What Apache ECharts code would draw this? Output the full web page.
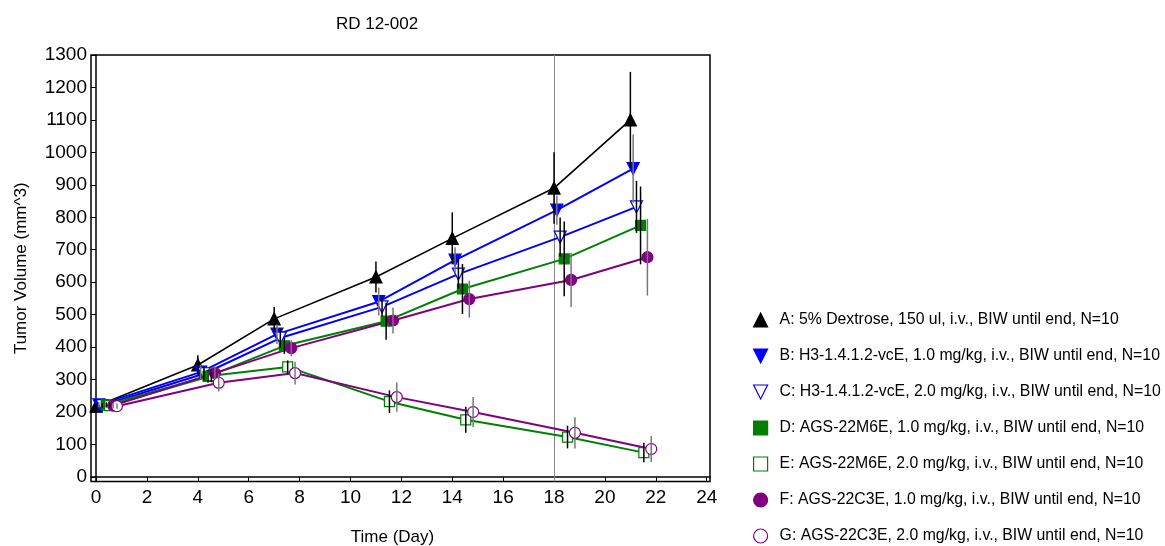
<!DOCTYPE html>
<html>
<head>
<meta charset="utf-8">
<script src="https://cdn.jsdelivr.net/npm/echarts@6/dist/echarts.min.js"></script>
<style>html,body{margin:0;padding:0;background:#fff}#c{width:1165px;height:546px}</style>
</head>
<body>
<div id="c"></div>
<script>
// ---- data ----
const days = [0, 4, 7, 11, 14, 18, 21];
// small per-group horizontal jitter (days) as plotted in the reference
const jitter = [0, 0.11, 0.24, 0.4, 0.53, 0.67, 0.82];
const groupNames = [
  'A: 5% Dextrose, 150 ul, i.v., BIW until end, N=10',
  'B: H3-1.4.1.2-vcE, 1.0 mg/kg, i.v., BIW until end, N=10',
  'C: H3-1.4.1.2-vcE, 2.0 mg/kg, i.v., BIW until end, N=10',
  'D: AGS-22M6E, 1.0 mg/kg, i.v., BIW until end, N=10',
  'E: AGS-22M6E, 2.0 mg/kg, i.v., BIW until end, N=10',
  'F: AGS-22C3E, 1.0 mg/kg, i.v., BIW until end, N=10',
  'G: AGS-22C3E, 2.0 mg/kg, i.v., BIW until end, N=10'
];
const valA = [218, 345, 487, 616, 735, 890, 1100];
const valB = [222, 323, 440, 540, 668, 822, 950];
const valC = [220, 318, 428, 524, 625, 739, 832];
const valD = [222, 310, 404, 480, 579, 672, 775];
const valE = [220, 312, 339, 232, 176, 123, 75];
const valF = [220, 320, 397, 482, 548, 607, 677];
const valG = [218, 290, 320, 246, 200, 136, 86];
const errA = [8, 30, 37, 48, 80, 110, 148];
const errB = [8, 22, 30, 43, 40, 45, 105];
const errC = [8, 20, 30, 30, 45, 60, 80];
const errD = [8, 20, 25, 57, 77, 115, 120];
const errE = [8, 20, 20, 35, 40, 35, 30];
const errF = [8, 20, 25, 40, 57, 83, 118];
const errG = [8, 27, 35, 45, 46, 48, 40];
const yTicks = [0,100,200,300,400,500,600,700,800,900,1000,1100,1200,1300];
const xTicks = [0,2,4,6,8,10,12,14,16,18,20,22,24];
const refDay = 18;

const values = [valA, valB, valC, valD, valE, valF, valG];
const errors = [errA, errB, errC, errD, errE, errF, errG];

// ---- styles ----
const FONT = 'Liberation Sans, Arial, sans-serif';
const DOWN = 'path://M0,0L10,0L5,10Z';
const styles = [
  {color:'#000000', symbol:'triangle', size:12, fill:'#000000', lw:1.6, err:'#000000'},
  {color:'#0000ff', symbol:DOWN, size:12, fill:'#0000ff', lw:2, err:'#777777'},
  {color:'#0000ff', symbol:DOWN, size:12, fill:'#ffffff', lw:2, err:'#000000'},
  {color:'#008000', symbol:'rect', size:10, fill:'#008000', lw:2, err:'#000000'},
  {color:'#008000', symbol:'rect', size:10, fill:'#ffffff', lw:2, err:'#000000'},
  {color:'#800080', symbol:'circle', size:11, fill:'#800080', lw:2, err:'#777777'},
  {color:'#800080', symbol:'circle', size:11, fill:'#ffffff', lw:2, err:'#777777'}
];

const series = [];
const legendData = [];
values.forEach((vals, i) => {
  const st = styles[i];
  const pts = days.map((d, k) => [d + jitter[i], vals[k]]);
  const s = {
    name: groupNames[i],
    type: 'line',
    data: pts,
    symbol: st.symbol,
    symbolSize: st.size,
    showAllSymbol: true,
    lineStyle: {color: st.color, width: st.lw},
    itemStyle: {color: st.fill, borderColor: st.color, borderWidth: 1.2},
    emphasis: {disabled: true},
    z: 3
  };
  if (i === 0) {
    s.markLine = {
      silent: true, symbol: 'none', label: {show: false},
      lineStyle: {color: '#888888', type: 'solid', width: 1},
      data: [{xAxis: refDay}], z: 1
    };
  }
  series.push(s);
  legendData.push({
    name: groupNames[i], icon: st.symbol,
    itemStyle: {color: st.fill, borderColor: st.color, borderWidth: 1.2}
  });
});
errors.forEach((errs, i) => {
  const st = styles[i];
  series.push({
    type: 'custom',
    silent: true,
    z: 4,
    data: days.map((d, k) => [d + jitter[i], values[i][k] - errs[k], values[i][k] + errs[k]]),
    encode: {x: 0, y: [1, 2]},
    renderItem: (params, api) => {
      const a = api.coord([api.value(0), api.value(1)]);
      const b = api.coord([api.value(0), api.value(2)]);
      return {type: 'line', shape: {x1: a[0], y1: a[1], x2: b[0], y2: b[1]},
              style: {stroke: st.err, lineWidth: 1.5}};
    }
  });
});

const chart = echarts.init(document.getElementById('c'), null, {renderer: 'canvas'});
chart.setOption({
  animation: false,
  backgroundColor: '#ffffff',
  textStyle: {fontFamily: FONT},
  title: {
    text: 'RD 12-002', left: 372, top: 11, textAlign: 'center',
    textStyle: {fontFamily: FONT, fontSize: 17, fontWeight: 'normal', color: '#000'}
  },
  legend: {
    type: 'plain', orient: 'vertical', left: 753, top: 312, height: 234, padding: 0,
    itemWidth: 14, itemHeight: 14, itemGap: 20,
    data: legendData,
    textStyle: {fontFamily: FONT, fontSize: 15.8, color: '#000', padding: [0, 0, 0, 7]},
    selectedMode: false
  },
  grid: {left: 91, right: 455, top: 55, bottom: 64.5, outerBoundsMode: 'none', containLabel: false,
         show: true, borderColor: '#000', borderWidth: 1.5, backgroundColor: 'transparent'},
  xAxis: {
    type: 'value', min: -0.2, max: 24.13,
    name: 'Time (Day)', nameLocation: 'middle', nameGap: 47,
    nameTextStyle: {fontFamily: FONT, fontSize: 17, color: '#000', padding: [0, 16, 0, 0]},
    axisLine: {show: true, lineStyle: {color: '#000', width: 1.5}},
    axisTick: {show: true, length: 5, customValues: xTicks, lineStyle: {color: '#000'}},
    axisLabel: {customValues: xTicks, fontFamily: FONT, fontSize: 19, color: '#000', margin: 7},
    splitLine: {show: false}
  },
  yAxis: {
    type: 'value', min: -14, max: 1300,
    name: 'Tumor Volume (mm^3)', nameLocation: 'middle', nameGap: 61, nameRotate: 90,
    nameTextStyle: {fontFamily: FONT, fontSize: 17, color: '#000'},
    axisLine: {show: true, lineStyle: {color: '#000', width: 1.5}},
    axisTick: {show: true, length: 5, customValues: yTicks, lineStyle: {color: '#000'}},
    axisLabel: {customValues: yTicks, formatter: (v) => String(v), fontFamily: FONT, fontSize: 19, color: '#000', margin: 4},
    splitLine: {show: false}
  },
  series: series
});
</script>
</body>
</html>
